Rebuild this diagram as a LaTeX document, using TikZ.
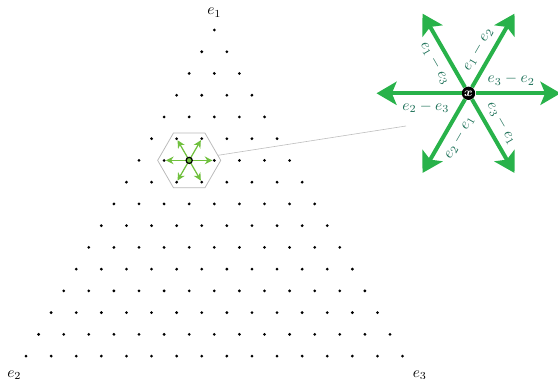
\documentclass[tikz,border=0pt]{standalone}
\usepackage{amsmath,amssymb}
\usetikzlibrary{arrows.meta,calc,shapes.geometric}

\definecolor{rootgreen}{RGB}{40,178,74}
\definecolor{lightgreen}{RGB}{112,192,62}
\definecolor{labelgreen}{RGB}{25,110,85}

\begin{document}
\begin{tikzpicture}[x=0.65pt,y=0.65pt,
  bigarrow/.style={rootgreen,line width=2.6pt,-{Stealth[length=13pt,width=15pt,inset=3pt]}},
  smallarrow/.style={lightgreen,line width=0.8pt,-{Stealth[length=5pt,width=5pt]}},
  rootlabel/.style={labelgreen,inner sep=4pt}]
  \useasboundingbox (0,0) rectangle (558,378);
  % weight lattice
  \coordinate (hc) at (189.2,217.6);
  \node[draw=gray!55,line width=0.5pt,regular polygon,regular polygon sides=6,minimum size=41pt,inner sep=0pt] (hex) at (hc) {};
  \foreach \a in {0,60,...,300}
    \draw[smallarrow] (hc) -- ++(\a:23.3);
  \foreach \r in {0,...,15}{
    \foreach \k in {0,...,\r}{
      \fill ({214.3+(\k-\r/2)*25.1},{348-\r*21.74}) circle (1pt);
    }
  }
  \node[circle,fill=lightgreen,draw=black,line width=0.8pt,inner sep=0pt,minimum size=4pt] (hcdot) at (hc) {};
  \node[anchor=base] (e1) at (214.3,363) {$e_1$};
  \node[anchor=base west,inner sep=0pt] (e2) at (7,1) {$e_2$};
  \node[anchor=base west,inner sep=0pt] (e3) at (412.5,1) {$e_3$};
  % zoomed star of roots
  \node[circle,fill=black,inner sep=0pt,minimum size=8.7pt,text=white,font=\footnotesize] (ctr) at (468.5,284.7) {$\boldsymbol{x}$};
  \coordinate (zoomend) at (406,252);
  \draw[gray!50,line width=0.4pt] (hex.10) -- (zoomend);
  \foreach \a/\lbl/\side in {0/e_3-e_2/above,60/e_1-e_2/above,120/e_1-e_3/below,180/e_2-e_3/below,240/e_2-e_1/below,300/e_3-e_1/above}{
    \coordinate (tip\a) at ($(ctr.center)+(\a:92)$);
    \draw[bigarrow] (ctr) -- (tip\a) node[pos=0.42,sloped,\side,rootlabel] {$\lbl$};
  }
\end{tikzpicture}
\end{document}
